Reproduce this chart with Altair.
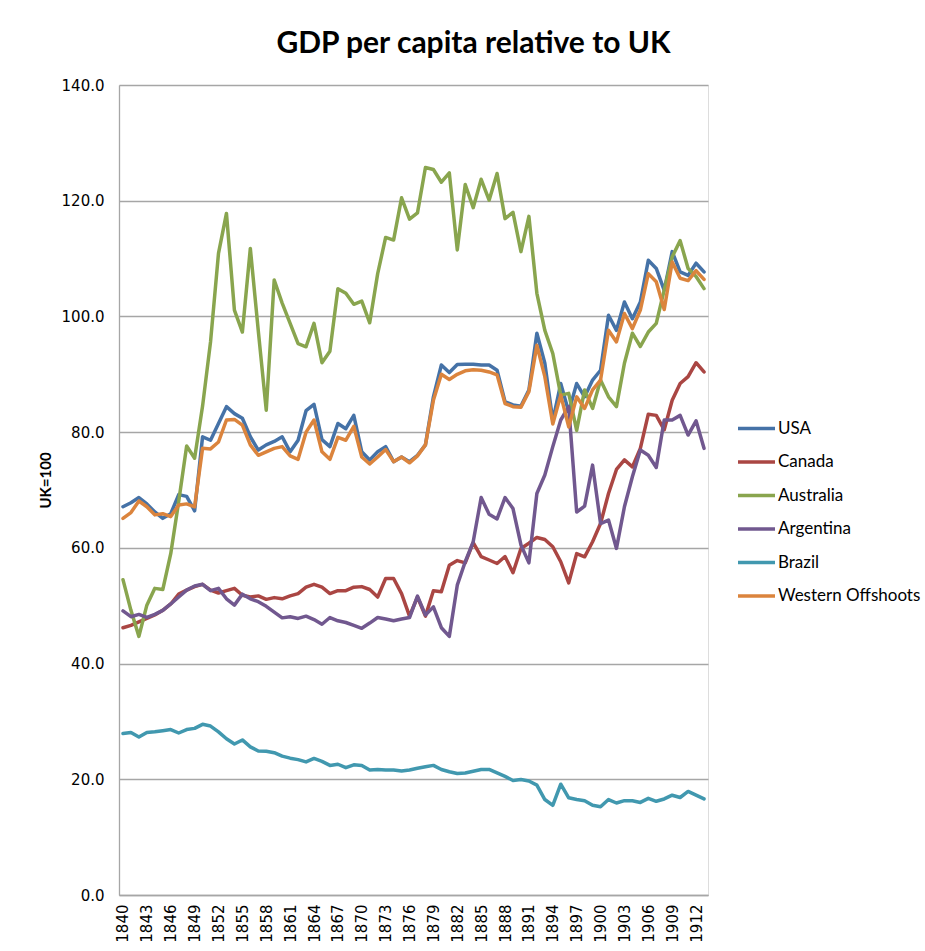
import altair as alt
import pandas as pd

years = list(range(1840, 1914))
tick_years = list(range(1840, 1913, 3))

usa = [67.1, 67.8, 68.7, 67.6, 66.2, 65.1, 65.9, 69.2, 68.9, 66.4,
       79.2, 78.6, 81.5, 84.4, 83.2, 82.4, 79.2, 76.9, 77.8, 78.4,
       79.2, 76.6, 78.6, 83.7, 84.8, 78.7, 77.5, 81.5, 80.6, 82.9,
       76.6, 75.2, 76.6, 77.5, 74.9, 75.7, 74.9, 76.0, 77.8, 86.1,
       91.6, 90.3, 91.7, 91.75, 91.75, 91.6, 91.6, 90.7, 85.25, 84.7,
       84.5, 87.3, 97.1, 91.9, 82.0, 88.4, 83.5, 88.4, 86.1, 89.0,
       90.7, 100.2, 97.6, 102.5, 99.6, 102.5, 109.7, 108.3, 104.5, 111.2,
       107.7, 107.1, 109.2, 107.7]
canada = [46.2, 46.6, 47.2, 47.8, 48.4, 49.2, 50.3, 52.0, 52.7, 53.3,
          53.7, 52.7, 52.2, 52.6, 53.0, 51.8, 51.5, 51.7, 51.1, 51.4,
          51.2, 51.7, 52.1, 53.2, 53.7, 53.2, 52.1, 52.6, 52.6, 53.2,
          53.3, 52.8, 51.5, 54.7, 54.7, 52.1, 48.2, 51.5, 48.2, 52.6,
          52.4, 57.0, 57.8, 57.4, 60.9, 58.5, 57.9, 57.3, 58.5, 55.7,
          59.9, 60.8, 61.8, 61.45, 60.2, 57.6, 53.95, 59.0, 58.45, 61.05,
          64.2, 69.4, 73.55, 75.2, 74.0, 77.2, 83.1, 82.9, 80.4, 85.5,
          88.4, 89.6, 92.0, 90.4]
australia = [54.5, 49.2, 44.7, 50.1, 53.0, 52.8, 59.0, 68.0, 77.6, 75.5,
             84.5, 95.6, 110.9, 117.8, 101.1, 97.3, 111.75, 97.5, 83.8, 106.3,
             102.3, 98.8, 95.3, 94.75, 98.8, 92.0, 94.0, 104.8, 104.0, 102.1,
             102.65, 98.9, 107.4, 113.65, 113.2, 120.5, 116.8, 117.9, 125.75, 125.4,
             123.2, 124.8, 111.5, 122.8, 118.8, 123.7, 120.1, 124.7, 116.9, 118.0,
             111.2, 117.3, 104.0, 97.6, 93.6, 86.4, 86.7, 80.3, 87.3, 84.1,
             89.0, 86.1, 84.4, 91.9, 97.1, 94.8, 97.3, 98.8, 104.6, 110.3,
             113.1, 108.3, 106.9, 104.8]
argentina = [49.1, 48.1, 48.5, 48.0, 48.5, 49.2, 50.3, 51.5, 52.7, 53.4,
             53.7, 52.6, 53.0, 51.2, 50.1, 52.0, 51.2, 50.7, 49.9, 48.9,
             47.9, 48.1, 47.8, 48.2, 47.6, 46.8, 47.96, 47.4, 47.1, 46.6,
             46.1, 47.0, 47.96, 47.7, 47.4, 47.7, 47.96, 51.65, 48.4, 49.8,
             46.2, 44.7, 53.55, 57.6, 61.05, 68.7, 65.8, 65.0, 68.7, 66.8,
             60.5, 57.4, 69.4, 72.6, 77.5, 82.1, 84.4, 66.2, 67.2, 74.3,
             64.2, 64.8, 59.9, 67.1, 72.3, 76.9, 76.0, 73.9, 82.1, 82.1,
             82.9, 79.5, 81.96, 77.2]
brazil = [27.9, 28.1, 27.3, 28.1, 28.2, 28.4, 28.6, 28.0, 28.6, 28.8,
          29.5, 29.2, 28.2, 27.0, 26.1, 26.8, 25.6, 24.9, 24.85, 24.6,
          24.0, 23.65, 23.4, 23.0, 23.6, 23.1, 22.4, 22.6, 22.0, 22.5,
          22.4, 21.6, 21.7, 21.6, 21.6, 21.45, 21.6, 21.9, 22.15, 22.4,
          21.7, 21.3, 21.0, 21.1, 21.4, 21.7, 21.7, 21.1, 20.5, 19.8,
          19.95, 19.7, 19.0, 16.5, 15.5, 19.15, 16.8, 16.5, 16.3, 15.5,
          15.25, 16.5, 15.9, 16.3, 16.3, 16.0, 16.7, 16.2, 16.6, 17.25,
          16.85, 17.9, 17.25, 16.6]
western_offshoots = [65.1, 66.1, 68.1, 67.1, 65.7, 65.9, 65.4, 67.4, 67.6, 67.1,
                     77.2, 77.1, 78.3, 82.1, 82.2, 81.2, 77.8, 76.0, 76.6, 77.2,
                     77.5, 75.9, 75.3, 80.0, 82.1, 76.6, 75.3, 79.1, 78.6, 81.0,
                     75.7, 74.5, 75.7, 77.0, 74.9, 75.7, 74.7, 75.9, 77.8, 85.5,
                     90.0, 89.1, 90.0, 90.6, 90.8, 90.7, 90.4, 89.9, 84.95, 84.4,
                     84.3, 87.0, 95.0, 89.6, 81.4, 86.4, 80.9, 86.1, 84.1, 87.3,
                     89.0, 97.6, 95.6, 100.5, 97.9, 101.1, 107.4, 106.0, 101.2, 109.4,
                     106.6, 106.2, 107.9, 106.4]

series_names = ["USA", "Canada", "Australia", "Argentina", "Brazil", "Western Offshoots"]
series_values = [usa, canada, australia, argentina, brazil, western_offshoots]
colors = ["#4572A7", "#AA4643", "#89A54E", "#71588F", "#4198AF", "#DB843D"]

rows = []
for name, vals in zip(series_names, series_values):
    for yr, v in zip(years, vals):
        rows.append({"Year": yr, "Series": name, "Value": v})
df = pd.DataFrame(rows)

grey = "#A6A6A6"

chart = alt.Chart(df).mark_line(
    strokeWidth=3.5, strokeJoin="round", strokeCap="round"
).encode(
    x=alt.X("Year:Q",
            scale=alt.Scale(domain=[1839.5, 1913.5], nice=False, zero=False),
            axis=alt.Axis(values=tick_years, format="d", labelAngle=270, title=None,
                          grid=False, ticks=False, labelFont="DejaVu Sans",
                          labelFontSize=15, labelColor="#000000", labelPadding=9,
                          labelOverlap=False, labelFlush=False,
                          domainColor=grey, domainWidth=1.3)),
    y=alt.Y("Value:Q",
            scale=alt.Scale(domain=[0, 140], nice=False),
            axis=alt.Axis(values=[0, 20, 40, 60, 80, 100, 120, 140], format=".1f",
                          title="UK=100", titleFont="Lato", titleFontWeight="bold",
                          titleFontSize=15, titleColor="#000000",
                          titleX=-74, titleY=395, titleAngle=270, titleAlign="center",
                          titleBaseline="middle",
                          labelFont="DejaVu Sans", labelFontSize=15, labelColor="#000000",
                          labelPadding=15, ticks=False, gridColor=grey, gridWidth=1.3,
                          domainColor=grey, domainWidth=1.3)),
    color=alt.Color("Series:N",
                    scale=alt.Scale(domain=series_names, range=colors),
                    legend=alt.Legend(title=None, orient="none", legendX=617, legendY=323,
                                      symbolType="stroke", symbolSize=1369,
                                      symbolStrokeWidth=3.5, labelFont="Lato",
                                      labelFontSize=17, labelColor="#000000",
                                      rowPadding=4.5, labelOffset=1, padding=0)),
).properties(
    width=589,
    height=810,
    padding={"left": 119, "top": 85, "right": 217, "bottom": 56},
    autosize=alt.AutoSizeParams(type="none"),
    title=alt.TitleParams("GDP per capita relative to UK", font="Lato", fontSize=30,
                          fontWeight="bold", color="#000000", anchor="middle",
                          dx=60, offset=19),
).configure_view(stroke=None).configure(background="white")

chart.save("out.html", embed_options={"renderer": "svg", "actions": False})
